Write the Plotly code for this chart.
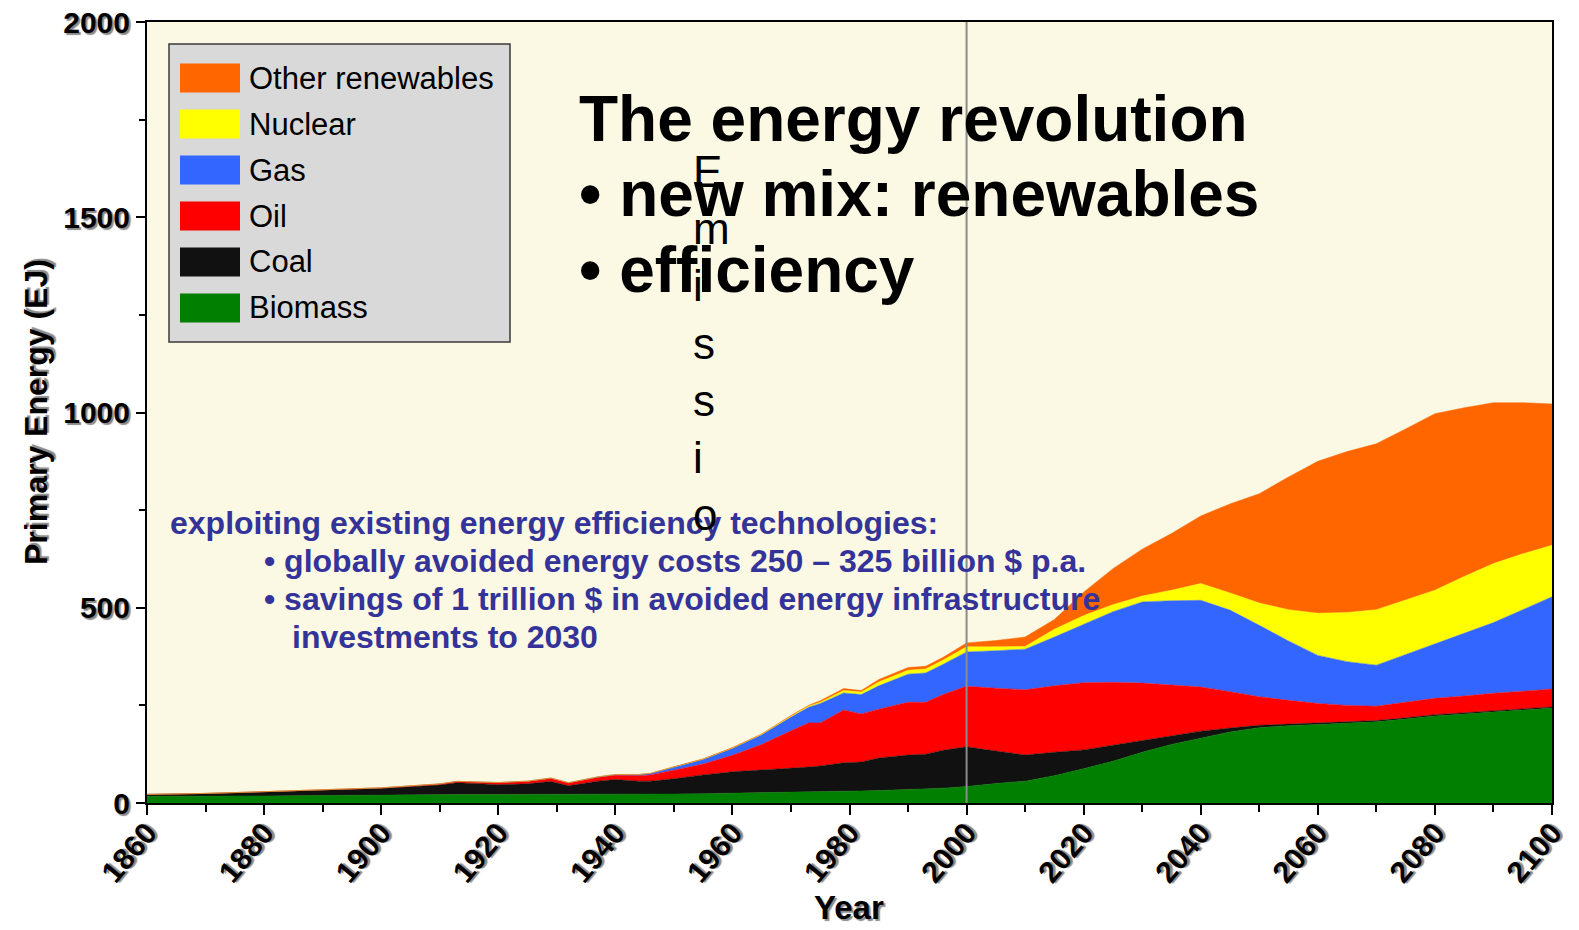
import plotly.graph_objects as go

# ---------------- data ----------------
years = [1860, 1870, 1880, 1890, 1900, 1910, 1913, 1920, 1925, 1929,
         1932, 1937, 1940, 1944, 1946, 1950, 1955, 1960, 1965, 1970,
         1973, 1975, 1979, 1982, 1985, 1990, 1993, 1996, 2000, 2005,
         2010, 2015, 2020, 2025, 2030, 2035, 2040, 2045, 2050, 2055,
         2060, 2065, 2070, 2075, 2080, 2085, 2090, 2095, 2100]

biomass = [17, 17, 18, 19, 21, 22, 22, 22, 22, 22,
           22, 22, 22, 22, 22, 23, 24, 25, 26, 27,
           28, 28, 30, 31, 32, 34, 35, 38, 42, 50,
           56, 70, 88, 107, 130, 150, 166, 182, 193, 198,
           201, 204, 208, 215, 223, 228, 233, 238, 243]

coal = [5, 7, 10, 14, 16, 24, 30, 25, 27, 33,
        22, 34, 38, 34, 34, 39, 48, 55, 58, 61,
        64, 67, 73, 74, 83, 89, 90, 97, 102, 83,
        67, 60, 48, 41, 30, 22, 18, 10, 6, 4,
        4, 3, 3, 3, 3, 3, 3, 3, 3]

oil = [0, 0.5, 1, 1, 1.5, 2.5, 3, 5, 6, 8,
       7, 9, 11, 14, 16, 22, 28, 42, 66, 97,
       113, 110, 135, 123, 125, 135, 133, 143, 155, 161,
       167, 170, 172, 161, 147, 130, 113, 93, 73, 61,
       50, 43, 37, 40, 42, 43, 45, 45, 46]

gas = [0, 0, 0, 0, 0.5, 0.5, 0.5, 0.5, 1, 1,
       1, 2, 2, 3, 4, 8, 12, 18, 25, 35,
       40, 50, 44, 50, 60, 72, 75, 77, 88, 96,
       104, 125, 150, 181, 208, 216, 222, 209, 183, 152,
       123, 112, 105, 122, 140, 161, 181, 209, 236]

nuclear = [0, 0, 0, 0, 0, 0, 0, 0, 0, 0,
           0, 0, 0, 0, 0, 0, 0, 0.5, 1, 2,
           3, 3, 6, 6, 10, 10, 10, 11, 13, 10,
           7, 20, 22, 18, 15, 27, 43, 44, 57, 80,
           108, 126, 142, 140, 137, 145, 151, 143, 132]

other_renewables = [0, 0, 0, 0, 0, 0, 0, 0, 0, 0,
                    0, 0, 0, 0, 0, 1, 1, 1.5, 1, 2,
                    2, 4, 5, 4, 6, 7, 7, 7, 10, 16,
                    24, 25, 60, 92, 120, 145, 173, 228, 280, 340,
                    389, 412, 425, 438, 452, 432, 412, 387, 362]

series_names = ["Biomass", "Coal", "Oil", "Gas", "Nuclear", "Other renewables"]
series_values = [biomass, coal, oil, gas, nuclear, other_renewables]
series_colors = ["#007F00", "#111111", "#FF0000", "#3366FF", "#FFFF00", "#FF6600"]

x_ticks = [1860, 1880, 1900, 1920, 1940, 1960, 1980, 2000, 2020, 2040, 2060, 2080, 2100]
y_ticks = [0, 500, 1000, 1500, 2000]

title_lines = ["The energy revolution", "\u2022 new mix: renewables", "\u2022 efficiency"]
blue_lines = ["exploiting existing energy efficiency technologies:",
              "\u2022 globally avoided energy costs 250 \u2013 325 billion $ p.a.",
              "\u2022 savings of 1 trillion $ in avoided energy infrastructure",
              "investments to 2030"]
vertical_text = "E<br>m<br>i<br>s<br>s<br>i<br>o"

# ---------------- layout geometry ----------------
W, H = 1579, 930
OFF = 8                        # page offset of the figure inside the html body
L, R, T, B = 147, 1552, 22, 803  # plot area on the page


def px(x):
    return (x - L) / (R - L)


def py(y):
    return (B - y) / (B - T)


ARIAL = "Liberation Sans, Arial, sans-serif"
SHADOW = "2px 2px 1px #8a8a8a"

fig = go.Figure()
for name, vals, col in zip(series_names, series_values, series_colors):
    fig.add_trace(go.Scatter(
        x=years, y=vals, name=name, mode="lines",
        stackgroup="one", line=dict(color=col, width=0.5),
        fillcolor=col, showlegend=False, hoverinfo="x+y+name"))

shapes = []
annotations = []

# vertical line at year 2000
shapes.append(dict(type="line", xref="x", yref="paper", x0=2000, x1=2000, y0=0, y1=1,
                   line=dict(color="#8c8c8c", width=2), layer="above"))

# manual legend box
shapes.append(dict(type="rect", xref="paper", yref="paper",
                   x0=px(169), x1=px(510), y0=py(342), y1=py(44),
                   fillcolor="#D9D9D9", line=dict(color="#3a3a3a", width=1.5), layer="above"))
legend_order = list(zip(series_names, series_colors))[::-1]
for i, (name, col) in enumerate(legend_order):
    cy = 78 + 46 * i
    shapes.append(dict(type="rect", xref="paper", yref="paper",
                       x0=px(180), x1=px(240), y0=py(cy + 14.5), y1=py(cy - 14.5),
                       fillcolor=col, line=dict(width=0), layer="above"))
    annotations.append(dict(xref="paper", yref="paper", x=px(247), y=py(cy),
                            xanchor="left", yanchor="middle", showarrow=False,
                            text=name, font=dict(family=ARIAL, size=31, color="black")))

# axis titles
annotations.append(dict(xref="paper", yref="paper", x=px(849), y=py(907),
                        xanchor="center", yanchor="middle", showarrow=False, text="Year",
                        font=dict(family=ARIAL, size=33, color="black", weight="bold",
                                  shadow=SHADOW)))
annotations.append(dict(xref="paper", yref="paper", x=px(36), y=py(412),
                        xanchor="center", yanchor="middle", showarrow=False, textangle=-90,
                        text="Primary Energy (EJ)",
                        font=dict(family=ARIAL, size=32, color="black", weight="bold",
                                  shadow=SHADOW)))

# blue text
blue_pos = [(168, 523), (262, 561), (262, 599), (290, 637)]
for txt, (bx, by) in zip(blue_lines, blue_pos):
    annotations.append(dict(xref="paper", yref="paper", x=px(bx), y=py(by),
                            xanchor="left", yanchor="middle", showarrow=False, text=txt,
                            font=dict(family=ARIAL, size=32, color="#333399", weight="bold")))

# title text
title_pos = [(577, 119), (577, 194), (577, 270)]
for txt, (tx, ty) in zip(title_lines, title_pos):
    annotations.append(dict(xref="paper", yref="paper", x=px(tx), y=py(ty),
                            xanchor="left", yanchor="middle", showarrow=False, text=txt,
                            font=dict(family=ARIAL, size=64, color="black", weight="bold")))

# stray vertical letters
annotations.append(dict(xref="paper", yref="paper", x=px(691), y=py(343),
                        xanchor="left", yanchor="middle", showarrow=False, align="left",
                        text=vertical_text,
                        font=dict(family=ARIAL, size=44, color="black")))

fig.update_layout(
    width=W, height=H,
    margin=dict(l=L - OFF, r=W - (R - OFF), t=T - OFF, b=H - (B - OFF), pad=0,
                autoexpand=False),
    paper_bgcolor="white",
    plot_bgcolor="#FBF8E3",
    showlegend=False,
    shapes=shapes,
    annotations=annotations,
)
fig.update_xaxes(
    automargin=False,
    range=[1860, 2100], tickvals=x_ticks, ticktext=[str(v) for v in x_ticks],
    tickangle=-50, ticks="outside", ticklen=10, tickwidth=2, tickcolor="black",
    ticklabelstandoff=-12, ticklabeloverflow="allow",
    showline=True, linecolor="black", linewidth=2, mirror=True, showgrid=False, zeroline=False,
    tickfont=dict(family=ARIAL, size=30, color="black", weight="bold", shadow=SHADOW),
    minor=dict(dtick=10, ticks="outside", ticklen=7, tickwidth=2, tickcolor="black", showgrid=False),
)
fig.update_yaxes(
    automargin=False,
    range=[0, 2000], tickvals=y_ticks, ticktext=[str(v) for v in y_ticks],
    ticks="outside", ticklen=9, tickwidth=2, tickcolor="black",
    ticklabeloverflow="allow",
    showline=True, linecolor="black", linewidth=2, mirror=True, showgrid=False, zeroline=False,
    tickfont=dict(family=ARIAL, size=30, color="black", weight="bold", shadow=SHADOW),
    minor=dict(dtick=250, ticks="outside", ticklen=6, tickwidth=2, tickcolor="black", showgrid=False),
)

fig.write_html("out.html")
